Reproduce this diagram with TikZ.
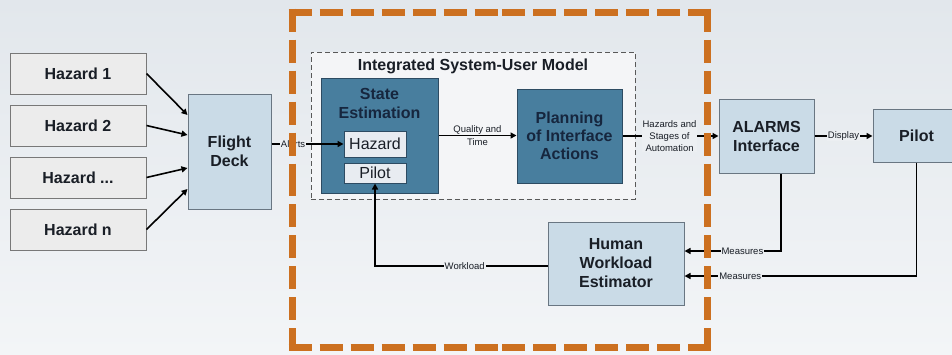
\documentclass[tikz,border=0pt]{standalone}
\usepackage{fontspec}
\setmainfont{Liberation Sans}
\usetikzlibrary{arrows.meta,calc}
\definecolor{bgtop}{RGB}{226,231,236}
\definecolor{bgbot}{RGB}{243,245,247}
\definecolor{bgmid}{RGB}{236,239,242}
\definecolor{hazfill}{RGB}{236,236,236}
\definecolor{hazdraw}{RGB}{120,120,120}
\definecolor{lightfill}{RGB}{202,219,231}
\definecolor{lightdraw}{RGB}{105,118,130}
\definecolor{darkfill}{RGB}{72,126,158}
\definecolor{darkdraw}{RGB}{45,75,98}
\definecolor{navytext}{RGB}{22,38,62}
\definecolor{subfill}{RGB}{232,236,241}
\definecolor{innerfill}{RGB}{244,245,247}
\definecolor{orangeline}{RGB}{204,112,32}
\definecolor{textdark}{RGB}{25,30,38}
\tikzset{
  bigfont/.style={font=\fontsize{16}{19}\selectfont\bfseries},
  hazbox/.style={draw=hazdraw, fill=hazfill, line width=1pt, bigfont, text=textdark,
    minimum width=136pt, minimum height=41pt, inner sep=0pt},
  lightbox/.style={draw=lightdraw, fill=lightfill, line width=1pt, bigfont, text=textdark,
    inner sep=0pt, align=center},
  darkbox/.style={draw=darkdraw, fill=darkfill, line width=1pt, bigfont, text=navytext,
    inner sep=0pt, align=center},
  subbox/.style={draw=darkdraw, fill=subfill, line width=1pt, text=textdark,
    font=\fontsize{16}{19}\selectfont, minimum width=62pt, inner sep=0pt},
  arr/.style={draw=black, line width=1.6pt, -{Triangle[length=6pt,width=6pt]}},
  lbl/.style={font=\fontsize{9.5}{12}\selectfont, text=textdark, fill=bgmid,
    inner sep=1pt, align=center},
  lblnf/.style={font=\fontsize{9.5}{12.5}\selectfont, text=textdark,
    inner sep=1pt, align=center},
  orangedash/.style={draw=orangeline, line width=7pt, dash pattern=on 23pt off 8pt}
}
\begin{document}
\begin{tikzpicture}[x=1pt,y=-1pt]
\useasboundingbox (0,0) rectangle (952,354);
\clip (0,0) rectangle (952,354);
\shade[top color=bgtop, bottom color=bgbot] (0,0) rectangle (952,354);

% hazards
\node[hazbox] (h1) at (78,73.5) {Hazard 1};
\node[hazbox] (h2) at (78,125.5) {Hazard 2};
\node[hazbox] (h3) at (78,177.5) {Hazard ...};
\node[hazbox] (hn) at (78,229.5) {Hazard n};

\node[lightbox, minimum width=83pt, minimum height=115pt] (fd) at (229.5,151.5) {Flight\\Deck};

% inner model
\node[draw=black!65, dash pattern=on 5pt off 3pt, fill=innerfill, line width=0.8pt, minimum width=324pt,
  minimum height=147pt, inner sep=0pt] (model) at (473,125.5) {};
\node[bigfont, text=textdark, inner sep=0pt] (mtitle) at (473,66) {Integrated System-User Model};

\node[darkbox, minimum width=117pt, minimum height=115pt] (se) at (379.5,135.5) {};
\node[darkbox, draw=none, fill=none, inner sep=0pt] (setext) at (379.5,103) {State\\[0pt]Estimation};
\node[subbox, minimum height=26pt] (hs) at (375,144) {Hazard};
\node[subbox, minimum height=20pt] (ps) at (375,173) {Pilot};

\node[darkbox, minimum width=105pt, minimum height=94pt] (pl) at (569.5,136)
  {Planning\\[-1pt]of Interface\\[-1pt]Actions};

\node[lightbox, minimum width=95pt, minimum height=74pt] (al) at (766.5,136) {ALARMS\\Interface};
\node[lightbox, minimum width=87pt, minimum height=53pt] (pi) at (916.5,135.5) {Pilot};
\node[lightbox, minimum width=136pt, minimum height=83pt] (hwe) at (616,263.5)
  {Human\\Workload\\Estimator};

% connectors
\draw[arr] (h1.east) -- ([yshift=36.5pt]fd.west);
\draw[arr] (h2.east) -- ([yshift=16.5pt]fd.west);
\draw[arr] (h3.east) -- ([yshift=-16.5pt]fd.west);
\draw[arr] (hn.east) -- ([yshift=-37.5pt]fd.west);

\draw[arr] (fd.east |- hs.west) -- node[lbl, pos=0.3] {Alerts} (hs.west);
\draw[arr] (se.east) -- node[lblnf] {Quality and\\Time} (pl.west |- se.east);
\draw[arr] (pl.east) -- node[lbl, pos=0.49] {Hazards and\\Stages of\\Automation} (al.west);
\draw[arr] (al.east) -- node[lbl] {Display} (pi.west |- al.east);
\draw[arr] ([xshift=14.5pt]al.south) |- node[lbl, pos=0.7] {Measures} ([yshift=12.5pt]hwe.east);
\draw[arr] (pi.south) |- node[lbl, pos=0.88] {Measures} ([yshift=-12.5pt]hwe.east);
\draw[arr] ([yshift=-2.5pt]hwe.west) -| node[lbl, pos=0.24] {Workload} (ps.south);

% orange boundary (each edge dashed from both corners toward its middle)
\coordinate (otl) at (292,12);
\coordinate (otr) at (707,12);
\coordinate (obr) at (707,347);
\coordinate (obl) at (292,347);
\draw[orangedash] ([xshift=-3.5pt]otl) -- ($(otl)!0.5!(otr)$);
\draw[orangedash] ([xshift=3.5pt]otr) -- ($(otl)!0.5!(otr)$);
\draw[orangedash] ([xshift=-3.5pt]obl) -- ($(obl)!0.5!(obr)$);
\draw[orangedash] ([xshift=3.5pt]obr) -- ($(obl)!0.5!(obr)$);
\draw[orangedash] ([yshift=3.5pt]otl) -- ($(otl)!0.5!(obl)$);
\draw[orangedash] ([yshift=-3.5pt]obl) -- ($(otl)!0.5!(obl)$);
\draw[orangedash] ([yshift=3.5pt]otr) -- ($(otr)!0.5!(obr)$);
\draw[orangedash] ([yshift=-3.5pt]obr) -- ($(otr)!0.5!(obr)$);
\end{tikzpicture}
\end{document}
